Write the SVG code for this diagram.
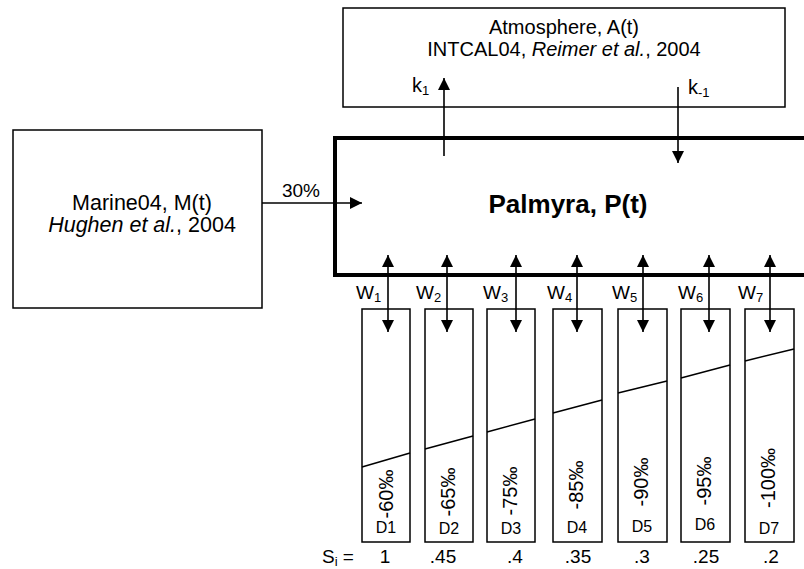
<svg xmlns="http://www.w3.org/2000/svg" width="804" height="569" viewBox="0 0 804 569">
<style>
text{font-family:"Liberation Sans",Arial,sans-serif;fill:#000}
.box{fill:#fff;stroke:#000;stroke-width:1.5}
.thick{fill:#fff;stroke:#000;stroke-width:4}
.ln{stroke:#000;stroke-width:1.5;fill:none}
.arr{stroke:#000;stroke-width:1.6;fill:none;marker-end:url(#ah)}
.dbl{stroke:#000;stroke-width:1.6;fill:none;marker-start:url(#ah);marker-end:url(#ah)}
.rot{font-size:20px;text-anchor:middle}
.d{font-size:16px;text-anchor:middle}
.w{font-size:19px}
.s{font-size:19px;text-anchor:middle}
</style>
<defs>
<marker id="ah" markerUnits="userSpaceOnUse" markerWidth="12" markerHeight="12" refX="12" refY="6" orient="auto-start-reverse">
<path d="M0,0 L12,6 L0,12 z" fill="#000"/>
</marker>
</defs>
<rect width="804" height="569" fill="#fff"/>
<g id="atmosphere">
<rect class="box" x="343" y="8" width="442" height="99"/>
<text x="564" y="34" font-size="20" text-anchor="middle">Atmosphere, A(t)</text>
<text x="564" y="56" font-size="20" text-anchor="middle">INTCAL04, <tspan font-style="italic">Reimer et al.</tspan>, 2004</text>
</g>
<g id="marine">
<rect class="box" x="13" y="130" width="249" height="178"/>
<text x="142" y="210" font-size="21.5" text-anchor="middle">Marine04, M(t)</text>
<text x="142" y="232" font-size="21.5" text-anchor="middle"><tspan font-style="italic">Hughen et al.</tspan>, 2004</text>
</g>
<g id="palmyra">
<rect class="thick" x="335" y="138" width="600" height="137"/>
<text x="568" y="213" font-size="26" font-weight="bold" text-anchor="middle">Palmyra, P(t)</text>
</g>
<g id="D1"><rect class="box" x="362" y="309" width="48" height="233"/><line class="ln" x1="362" y1="467" x2="410" y2="453"/><text class="rot" transform="translate(393,494) rotate(-90)">-60‰</text><text class="d" x="386" y="533">D1</text></g>
<g id="D2"><rect class="box" x="425" y="309" width="48" height="233"/><line class="ln" x1="425" y1="449" x2="473" y2="436"/><text class="rot" transform="translate(455,492) rotate(-90)">-65‰</text><text class="d" x="449" y="534">D2</text></g>
<g id="D3"><rect class="box" x="487" y="309" width="48" height="233"/><line class="ln" x1="487" y1="432" x2="535" y2="419"/><text class="rot" transform="translate(517,491) rotate(-90)">-75‰</text><text class="d" x="511" y="534">D3</text></g>
<g id="D4"><rect class="box" x="553" y="309" width="49" height="233"/><line class="ln" x1="553" y1="413" x2="602" y2="400"/><text class="rot" transform="translate(583,485) rotate(-90)">-85‰</text><text class="d" x="577" y="533">D4</text></g>
<g id="D5"><rect class="box" x="618" y="309" width="49" height="233"/><line class="ln" x1="618" y1="393" x2="667" y2="381"/><text class="rot" transform="translate(648,482) rotate(-90)">-90‰</text><text class="d" x="642" y="532">D5</text></g>
<g id="D6"><rect class="box" x="681" y="309" width="49" height="233"/><line class="ln" x1="681" y1="378" x2="730" y2="365"/><text class="rot" transform="translate(711,481) rotate(-90)">-95‰</text><text class="d" x="705" y="530">D6</text></g>
<g id="D7"><rect class="box" x="745" y="309" width="49" height="233"/><line class="ln" x1="745" y1="361" x2="794" y2="349"/><text class="rot" transform="translate(775,478) rotate(-90)">-100‰</text><text class="d" x="769" y="534">D7</text></g>
<g id="connectors">
<line class="arr" x1="262" y1="203" x2="362" y2="203"/>
<line class="arr" x1="444" y1="156" x2="444" y2="78"/>
<line class="arr" x1="678" y1="87" x2="678" y2="163"/>
<line class="dbl" x1="388" y1="255" x2="388" y2="332"/>
<line class="dbl" x1="447" y1="255" x2="447" y2="332"/>
<line class="dbl" x1="516" y1="255" x2="516" y2="332"/>
<line class="dbl" x1="577" y1="255" x2="577" y2="332"/>
<line class="dbl" x1="643" y1="255" x2="643" y2="332"/>
<line class="dbl" x1="709" y1="255" x2="709" y2="332"/>
<line class="dbl" x1="770" y1="255" x2="770" y2="332"/>
</g>
<g id="labels">
<text x="301" y="197" font-size="19" text-anchor="middle">30%</text>
<text x="412" y="92" font-size="20">k<tspan font-size="13" dy="3">1</tspan></text>
<text x="688" y="94" font-size="20">k<tspan font-size="13" dy="3">-1</tspan></text>
<text class="w" x="356" y="299">W<tspan font-size="13" dy="3">1</tspan></text>
<text class="w" x="416" y="299">W<tspan font-size="13" dy="3">2</tspan></text>
<text class="w" x="483" y="299">W<tspan font-size="13" dy="3">3</tspan></text>
<text class="w" x="547" y="299">W<tspan font-size="13" dy="3">4</tspan></text>
<text class="w" x="612" y="299">W<tspan font-size="13" dy="3">5</tspan></text>
<text class="w" x="678" y="299">W<tspan font-size="13" dy="3">6</tspan></text>
<text class="w" x="738" y="299">W<tspan font-size="13" dy="3">7</tspan></text>
<text x="322" y="563" font-size="19">S<tspan font-size="13" dy="3">i</tspan><tspan dy="-3"> =</tspan></text>
<text class="s" x="385" y="563">1</text>
<text class="s" x="443" y="563">.45</text>
<text class="s" x="515" y="563">.4</text>
<text class="s" x="578" y="563">.35</text>
<text class="s" x="642" y="563">.3</text>
<text class="s" x="706" y="563">.25</text>
<text class="s" x="771" y="563">.2</text>
</g>
</svg>
